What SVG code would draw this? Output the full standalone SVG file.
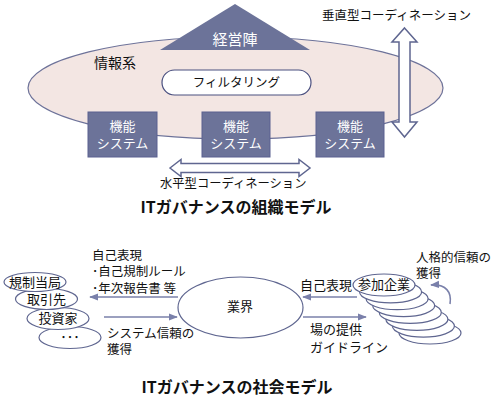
<svg xmlns="http://www.w3.org/2000/svg" width="500" height="400" viewBox="0 0 500 400">
<defs>
<style>
text{font-family:"Noto Sans CJK JP","Noto Sans",sans-serif;fill:#111;}
.lbl{font-size:13px;}
.w{fill:#fff;font-size:13px;}
.title{font-size:16px;font-weight:bold;}
.box{fill:#6c7399;stroke:#5a6190;stroke-width:1;}
.ell{fill:#fff;stroke:#5f6690;stroke-width:1.2;}
.blk{fill:#fff;stroke:#5f6690;stroke-width:1.5;stroke-linejoin:miter;}
.ln{fill:none;stroke:#7a80aa;stroke-width:1.6;}
</style>
<marker id="ah" viewBox="0 0 10 8" refX="9" refY="4" markerWidth="9" markerHeight="8" markerUnits="userSpaceOnUse" orient="auto">
<path d="M0,0 L10,4 L0,8 z" fill="#7a80aa"/>
</marker>
</defs>
<rect width="500" height="400" fill="#fff"/>

<g id="info-system">
<ellipse cx="235.5" cy="88" rx="207.5" ry="51" fill="#f3e6e3" stroke="#6d7299" stroke-width="1.2"/>
<text class="lbl" x="94" y="68" style="font-size:14px">情報系</text>
</g>

<g id="management">
<polygon points="235,4 160,50 310,50" fill="#6c7399"/>
<text class="w" x="235" y="45" text-anchor="middle" style="font-size:15px">経営陣</text>
</g>

<g id="filtering">
<rect x="162" y="70" width="149" height="25" rx="12.5" fill="#fff" stroke="#4a5080" stroke-width="1.2"/>
<text class="lbl" x="236.5" y="87" text-anchor="middle" style="font-size:12.5px">フィルタリング</text>
</g>

<g id="func1">
<rect class="box" x="88" y="112" width="69" height="45"/>
<text class="w" text-anchor="middle"><tspan x="122.5" y="131">機能</tspan><tspan x="122.5" y="147.5">システム</tspan></text>
</g>
<g id="func2">
<rect class="box" x="202" y="112" width="68" height="45"/>
<text class="w" text-anchor="middle"><tspan x="236" y="131">機能</tspan><tspan x="236" y="147.5">システム</tspan></text>
</g>
<g id="func3">
<rect class="box" x="316" y="112" width="68" height="45"/>
<text class="w" text-anchor="middle"><tspan x="350" y="131">機能</tspan><tspan x="350" y="147.5">システム</tspan></text>
</g>

<g id="connectors-top">
<path class="blk" d="M170,168 L181,159.5 L181,163.5 L299,163.5 L299,159.5 L310,168 L299,176.5 L299,172.5 L181,172.5 L181,176.5 Z"/>
<path class="blk" d="M404.5,28 L417,42 L410,42 L410,122 L417,122 L404.5,137 L392,122 L399,122 L399,42 L392,42 Z"/>
</g>
<text class="lbl" x="322" y="19.5" style="font-size:12.5px">垂直型コーディネーション</text>
<text class="lbl" x="160" y="187.5" style="font-size:12.3px">水平型コーディネーション</text>
<text class="title" x="236" y="213" text-anchor="middle">ITガバナンスの組織モデル</text>

<g id="stakeholders">
<g id="etc"><ellipse class="ell" cx="70" cy="337.5" rx="31" ry="11"/><text class="lbl" x="70" y="342" text-anchor="middle">･･･</text></g>
<g id="investor"><ellipse class="ell" cx="58" cy="318.5" rx="31" ry="11"/><text class="lbl" x="58" y="323" text-anchor="middle">投資家</text></g>
<g id="partner"><ellipse class="ell" cx="46.5" cy="299" rx="31" ry="10.5"/><text class="lbl" x="46.5" y="303.5" text-anchor="middle">取引先</text></g>
<g id="regulator"><ellipse class="ell" cx="35" cy="282" rx="31" ry="9.5"/><text class="lbl" x="35" y="286.5" text-anchor="middle">規制当局</text></g>
</g>

<g id="industry">
<ellipse class="ell" cx="240.5" cy="307.5" rx="62.5" ry="30.5"/>
<text class="lbl" x="240" y="311" text-anchor="middle">業界</text>
</g>

<g id="companies">
<ellipse class="ell" cx="430" cy="333" rx="31" ry="11"/>
<ellipse class="ell" cx="423.4" cy="326.1" rx="31" ry="11"/>
<ellipse class="ell" cx="416.9" cy="319.3" rx="31" ry="11"/>
<ellipse class="ell" cx="410.3" cy="312.4" rx="31" ry="11"/>
<ellipse class="ell" cx="403.7" cy="305.6" rx="31" ry="11"/>
<ellipse class="ell" cx="397.1" cy="298.7" rx="31" ry="11"/>
<ellipse class="ell" cx="390.6" cy="291.9" rx="31" ry="11"/>
<ellipse class="ell" cx="384" cy="285" rx="31" ry="11"/>
<text class="lbl" x="384" y="289" text-anchor="middle">参加企業</text>
</g>

<g id="connectors">
<line class="ln" x1="178" y1="297" x2="90" y2="297" marker-end="url(#ah)"/>
<line class="ln" x1="104" y1="317" x2="177" y2="317" marker-end="url(#ah)"/>
<line class="ln" x1="357" y1="297" x2="303" y2="297" marker-end="url(#ah)"/>
<line class="ln" x1="303" y1="317" x2="366" y2="317" marker-end="url(#ah)"/>
<path class="ln" d="M450,304 C452,292 446,284 431,285" marker-end="url(#ah)"/>
</g>

<text class="lbl" style="font-size:12.5px"><tspan x="92" y="259.5">自己表現</tspan><tspan x="92" y="276">･自己規制ルール</tspan><tspan x="92" y="293">･年次報告書 等</tspan></text>
<text class="lbl" style="font-size:12.5px"><tspan x="107" y="337.5">システム信頼の</tspan><tspan x="107" y="353.5">獲得</tspan></text>
<text class="lbl" x="300" y="289.5">自己表現</text>
<text class="lbl"><tspan x="310" y="333.5">場の提供</tspan><tspan x="310" y="351.5">ガイドライン</tspan></text>
<text class="lbl" style="font-size:12.5px"><tspan x="416" y="262">人格的信頼の</tspan><tspan x="416" y="278">獲得</tspan></text>
<text class="title" x="237" y="393" text-anchor="middle">ITガバナンスの社会モデル</text>
</svg>
